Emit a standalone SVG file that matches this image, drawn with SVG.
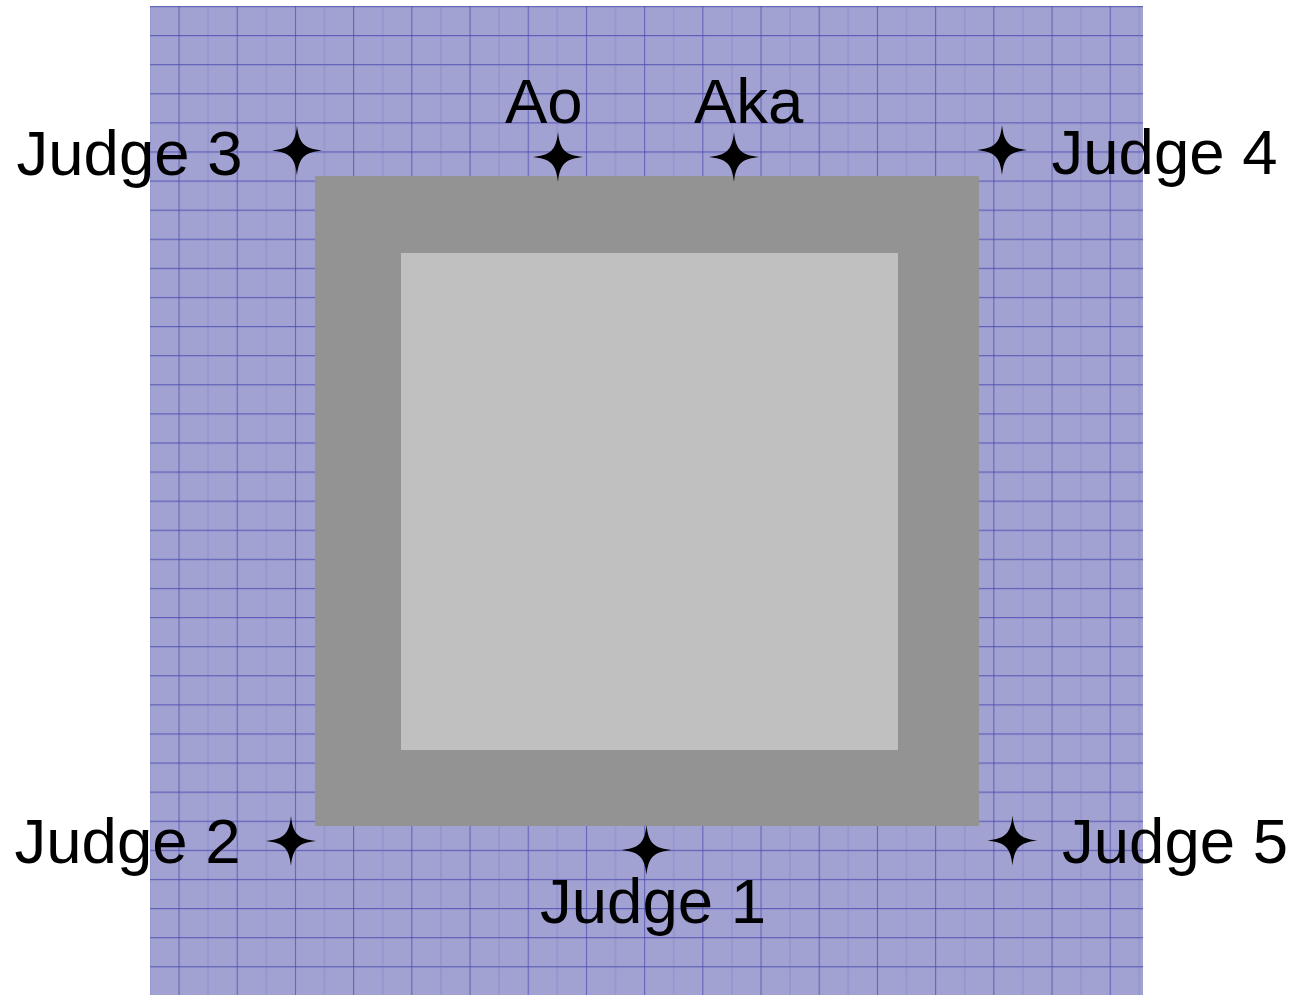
<svg xmlns="http://www.w3.org/2000/svg" width="1295" height="995" viewBox="0 0 1295 995">
<style>
.lbl{font-family:"Liberation Sans",Arial,sans-serif;font-size:63.5px;fill:#000}
.star{fill:#000}
</style>
<defs>
<pattern id="grid" patternUnits="userSpaceOnUse" x="178.5" y="35" width="58.2" height="29.1">
<line x1="0" y1="0.5" x2="58.2" y2="0.5" stroke="#4848b0" stroke-width="1.2" stroke-opacity="0.75"/>
<line x1="0.5" y1="0" x2="0.5" y2="29.1" stroke="#4848b0" stroke-width="1.2" stroke-opacity="0.7"/>
<line x1="29.6" y1="0" x2="29.6" y2="29.1" stroke="#6a6ac0" stroke-width="1" stroke-opacity="0.4"/>
</pattern>
<path id="s" d="M0,-25 C2,-7 7,-2 25,0 C7,2 2,7 0,25 C-2,7 -7,2 -25,0 C-7,-2 -2,-7 0,-25Z"/>
</defs>
<rect width="1295" height="995" fill="#ffffff"/>
<g id="field">
<rect x="150" y="6" width="993" height="989" fill="#a2a2d2"/>
<rect x="150" y="6" width="993" height="989" fill="url(#grid)"/>
</g>
<g id="safety-area"><rect x="315" y="176" width="664" height="650" fill="#939393"/></g>
<g id="competition-area"><rect x="401" y="253" width="497" height="497" fill="#c0c0c0"/></g>
<g id="connectors"></g>
<g id="judge3"><use href="#s" class="star" x="297" y="150.5"/><text class="lbl" x="16.5" y="175">Judge 3</text></g>
<g id="ao"><use href="#s" class="star" x="558" y="157"/><text class="lbl" x="505" y="123">Ao</text></g>
<g id="aka"><use href="#s" class="star" x="734" y="157"/><text class="lbl" x="694" y="123">Aka</text></g>
<g id="judge4"><use href="#s" class="star" x="1002" y="150"/><text class="lbl" x="1051.5" y="174">Judge 4</text></g>
<g id="judge2"><use href="#s" class="star" x="291" y="841"/><text class="lbl" x="14.5" y="863">Judge 2</text></g>
<g id="judge1"><use href="#s" class="star" x="646.5" y="850"/><text class="lbl" x="540" y="923">Judge 1</text></g>
<g id="judge5"><use href="#s" class="star" x="1012.5" y="840.5"/><text class="lbl" x="1062" y="863">Judge 5</text></g>
</svg>
